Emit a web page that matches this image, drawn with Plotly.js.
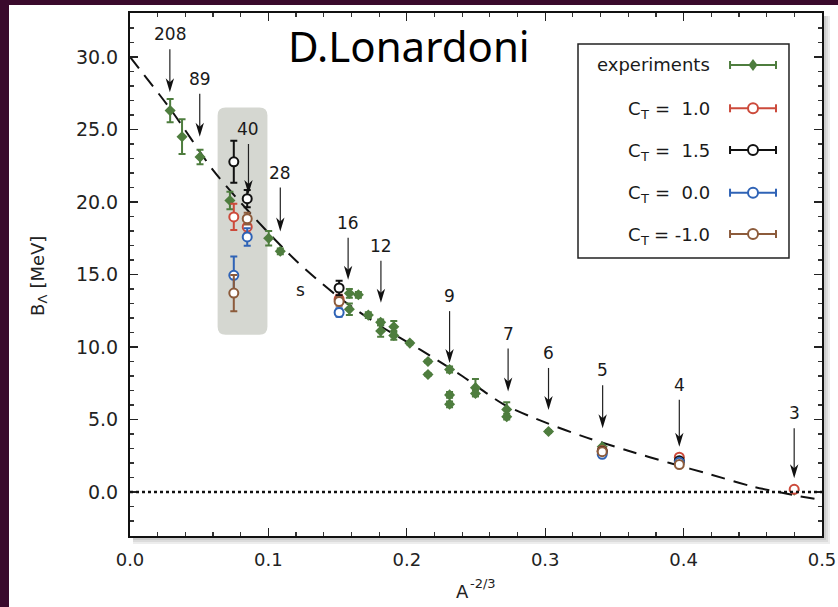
<!DOCTYPE html>
<html>
<head>
<meta charset="utf-8">
<script src="https://cdn.plot.ly/plotly-3.0.1.min.js"></script>
<style>
  html, body { margin: 0; padding: 0; background: #3a0a2c; width: 838px; height: 607px; overflow: hidden; }
  #chart { position: absolute; left: 9px; top: 5px; width: 829px; height: 602px; }
</style>
</head>
<body>
<div id="chart"></div>
<script>
// ---- data ----
const expX   = [0.029, 0.0376, 0.0506, 0.0722, 0.1002, 0.1086, 0.1585, 0.1585, 0.165, 0.1722, 0.1811, 0.1811, 0.1906, 0.1906, 0.2022, 0.2153, 0.2153, 0.2309, 0.2309, 0.2309, 0.2496, 0.2496, 0.2722, 0.2722, 0.3024, 0.3412, 0.3969, 0.3969, 0.4799];
const expY   = [26.3, 24.5, 23.1, 20.1, 17.5, 16.6, 13.7, 12.6, 13.6, 12.2, 11.7, 11.1, 11.4, 10.8, 10.27, 9.0, 8.1, 8.45, 6.7, 6.05, 7.2, 6.8, 5.7, 5.2, 4.18, 3.12, 2.39, 2.04, 0.13];
const expErr = [0.8, 1.2, 0.5, 0.6, 0.5, 0.2, 0.3, 0.4, 0.2, 0.2, 0.2, 0.4, 0.4, 0.3, 0.1, 0.1, 0.1, 0.2, 0.2, 0.2, 0.6, 0.2, 0.5, 0.2, 0.1, 0.05, 0.05, 0.05, 0.05];

const calcX = [0.075, 0.0847, 0.1511, 0.3412, 0.3969, 0.4799];
const ct10Y   = [18.97, 18.28, 13.3, 2.85, 2.4, 0.19];
const ct10Err = [0.9, 0.4, 0.3, 0.1, 0.1, 0.05];
const ct15Y   = [22.77, 20.23, 14.07, 2.8, 2.15, null];
const ct15Err = [1.45, 0.6, 0.5, 0.1, 0.1, 0];
const ct00Y   = [14.94, 17.59, 12.38, 2.6, 2.05, null];
const ct00Err = [1.3, 0.6, 0.3, 0.1, 0.1, 0];
const ctm1Y   = [13.72, 18.85, 13.14, 2.78, 1.9, null];
const ctm1Err = [1.25, 0.4, 0.3, 0.1, 0.1, 0];

const curveX = [0, 0.03, 0.06, 0.09, 0.12, 0.15, 0.18, 0.21, 0.24, 0.27, 0.30, 0.33, 0.36, 0.39, 0.42, 0.45, 0.48, 0.50];
const curveY = [30.0, 26.3, 22.2, 18.9, 15.95, 13.5, 11.5, 9.8, 8.0, 6.05, 4.8, 3.75, 2.85, 2.0, 1.2, 0.38, -0.22, -0.55];

const arrowLabels = ['208', '89', '40', '28', '16', '12', '9', '7', '6', '5', '4', '3'];
const arrowX      = [0.0288, 0.0504, 0.0856, 0.1086, 0.1576, 0.1813, 0.2309, 0.2732, 0.3024, 0.3415, 0.3969, 0.4799];
const arrowTipY   = [27.56, 24.5, 20.55, 17.96, 14.64, 13.05, 8.89, 6.93, 5.66, 4.4, 3.13, 0.95];
const arrowLen    = [58, 58, 65, 59, 57, 57, 67, 58, 57, 58, 62, 65];   // px from tip to label centre

// legend: main label / subscript / value text
const legendMain  = ['experiments', 'C', 'C', 'C', 'C'];
const legendSub   = ['', 'T', 'T', 'T', 'T'];
const legendValue = ['', '=\u00a0\u00a01.0', '=\u00a0\u00a01.5', '=\u00a0\u00a00.0', '= -1.0'];
const seriesColors = ['#4e7d3e', '#cc4a3b', '#111111', '#2f63b6', '#8c5b3b'];

// highlighted box (data coords)
const boxX = [0.0633, 0.0993];
const boxY = [10.84, 26.52];

const yRange = [-3.03, 33.03];
const plotH = 523, plotW = 692;
const pxPerUnit = plotH / (yRange[1] - yRange[0]);

// ---- traces ----
const traces = [];
traces.push({
  x: curveX, y: curveY, type: 'scatter', mode: 'lines',
  line: {color: '#111', width: 2, dash: '14px,9px', shape: 'spline', smoothing: 0.8},
  hoverinfo: 'skip', showlegend: false
});
traces.push({
  x: expX, y: expY, type: 'scatter', mode: 'markers', name: 'experiments',
  marker: {symbol: 'diamond', size: 8.5, color: seriesColors[0], line: {width: 0}},
  error_y: {type: 'data', array: expErr, visible: true, color: seriesColors[0], thickness: 2, width: 3.5},
  showlegend: false
});
const calcSets = [[ct10Y, ct10Err], [ct15Y, ct15Err], [ct00Y, ct00Err], [ctm1Y, ctm1Err]];
calcSets.forEach((s, i) => {
  traces.push({
    x: calcX, y: s[0], type: 'scatter', mode: 'markers', name: 'CT ' + legendValue[i + 1],
    marker: {symbol: 'circle', size: 9, color: '#ffffff', line: {color: seriesColors[i + 1], width: 2}},
    error_y: {type: 'data', array: s[1], visible: true, color: seriesColors[i + 1], thickness: 2, width: 3.5},
    showlegend: false
  });
});

// ---- shapes ----
const shapes = [];
const pxX = 1 / plotW, pxY = 1 / plotH;
// soft shadow of the plot frame
[8, 6, 4, 2].forEach(o => {
  shapes.push({type: 'rect', xref: 'paper', yref: 'paper', layer: 'below',
    x0: 3 * pxX, x1: 1 + o * pxX, y0: -o * pxY, y1: 1 - 3 * pxY,
    fillcolor: 'rgba(0,0,0,0.07)', line: {width: 0}});
});
shapes.push({type: 'rect', xref: 'paper', yref: 'paper', layer: 'below',
  x0: 0, x1: 1, y0: 0, y1: 1, fillcolor: '#ffffff', line: {width: 0}});
// rounded gray box
(function () {
  const rx = 0.0058, ry = 0.55;
  const x0 = boxX[0], x1 = boxX[1], y0 = boxY[0], y1 = boxY[1];
  const p = `M${x0 + rx},${y0} L${x1 - rx},${y0} Q${x1},${y0} ${x1},${y0 + ry} L${x1},${y1 - ry} Q${x1},${y1} ${x1 - rx},${y1} L${x0 + rx},${y1} Q${x0},${y1} ${x0},${y1 - ry} L${x0},${y0 + ry} Q${x0},${y0} ${x0 + rx},${y0} Z`;
  shapes.push({type: 'path', xref: 'x', yref: 'y', layer: 'below', path: p,
    fillcolor: '#d5d7d1', line: {width: 0}});
})();
// zero line
shapes.push({type: 'line', xref: 'paper', yref: 'y', x0: 0, x1: 1, y0: 0, y1: 0,
  line: {color: '#111', width: 2.5, dash: 'dot'}, layer: 'above'});
// legend box
shapes.push({type: 'rect', xref: 'paper', yref: 'paper', x0: 0.6474, x1: 0.9523, y0: 0.5315, y1: 0.9407,
  fillcolor: '#ffffff', line: {color: '#222', width: 1.5}, layer: 'above'});

const txtFont = (s) => ({family: 'DejaVu Sans', size: s, color: '#1a1a1a'});
const rowY = [0.9006, 0.8178, 0.7380, 0.6564, 0.5774];
const symL = 0.8671, symR = 0.9335, symC = 0.9003, textR = 0.8406;
const annotations = [];
legendMain.forEach((nm, i) => {
  const c = seriesColors[i], y = rowY[i];
  shapes.push({type: 'line', xref: 'paper', yref: 'paper', x0: symL, x1: symR, y0: y, y1: y,
    line: {color: c, width: 2}, layer: 'above'});
  [symL, symR].forEach(xe => {
    shapes.push({type: 'line', xref: 'paper', yref: 'paper', ysizemode: 'pixel', yanchor: y,
      x0: xe, x1: xe, y0: -4, y1: 4, line: {color: c, width: 2}, layer: 'above'});
  });
  if (i === 0) {
    shapes.push({type: 'path', xref: 'paper', yref: 'paper', xsizemode: 'pixel', ysizemode: 'pixel',
      xanchor: symC, yanchor: y, path: 'M0,6 L4.5,0 L0,-6 L-4.5,0 Z',
      fillcolor: c, line: {width: 0}, layer: 'above'});
    annotations.push({xref: 'paper', yref: 'paper', x: textR, y: y, xanchor: 'right', yanchor: 'middle',
      text: nm, showarrow: false, font: txtFont(18)});
  } else {
    shapes.push({type: 'circle', xref: 'paper', yref: 'paper', xsizemode: 'pixel', ysizemode: 'pixel',
      xanchor: symC, yanchor: y, x0: -5, x1: 5, y0: -5, y1: 5,
      fillcolor: '#ffffff', line: {color: c, width: 2}, layer: 'above'});
    annotations.push({xref: 'paper', yref: 'paper', x: textR, y: y, xanchor: 'right', yanchor: 'middle',
      text: legendValue[i], showarrow: false, font: txtFont(18)});
    annotations.push({xref: 'paper', yref: 'paper', x: textR, y: y, xanchor: 'right', yanchor: 'middle',
      xshift: -61, yshift: -6, text: legendSub[i], showarrow: false, font: txtFont(13)});
    annotations.push({xref: 'paper', yref: 'paper', x: textR, y: y, xanchor: 'right', yanchor: 'middle',
      xshift: -69, text: nm, showarrow: false, font: txtFont(18)});
  }
});

// arrows (shapes) with nucleus labels (text annotations)
arrowLabels.forEach((t, i) => {
  const len = arrowLen[i];
  shapes.push({type: 'line', xref: 'x', yref: 'y', ysizemode: 'pixel', yanchor: arrowTipY[i],
    x0: arrowX[i], x1: arrowX[i], y0: 9, y1: len - 15,
    line: {color: '#222', width: 1.2}, layer: 'above'});
  shapes.push({type: 'path', xref: 'x', yref: 'y', xsizemode: 'pixel', ysizemode: 'pixel',
    xanchor: arrowX[i], yanchor: arrowTipY[i], path: 'M0,0 L-4.2,14 L0,10 L4.2,14 Z',
    fillcolor: '#111', line: {width: 0}, layer: 'above'});
  annotations.push({x: arrowX[i], y: arrowTipY[i] + len / pxPerUnit, xref: 'x', yref: 'y', text: t,
    showarrow: false, xanchor: 'center', yanchor: 'middle', font: txtFont(17)});
});
annotations.push({x: 0.123, y: 13.95, xref: 'x', yref: 'y', text: 's', showarrow: false, font: txtFont(17)});
// big title
annotations.push({xref: 'paper', yref: 'paper', x: 0.4032, y: 0.9388, xanchor: 'center', yanchor: 'middle',
  text: 'D.Lonardoni', showarrow: false, font: {family: 'Noto Sans', size: 42, color: '#000'}});

// axis titles built from plain text pieces (main + sub/superscript)
const axisFont = (s) => ({family: 'DejaVu Sans', size: s, color: '#222'});
// y title: B_Λ [MeV], rotated
annotations.push({xref: 'paper', yref: 'paper', x: -0.1343, y: 0.4321, textangle: -90,
  text: 'B', showarrow: false, font: axisFont(18), xanchor: 'center', yanchor: 'middle'});
annotations.push({xref: 'paper', yref: 'paper', x: -0.1271, y: 0.4522, textangle: -90,
  text: 'Λ', showarrow: false, font: axisFont(13), xanchor: 'center', yanchor: 'middle'});
annotations.push({xref: 'paper', yref: 'paper', x: -0.1343, y: 0.5229, textangle: -90,
  text: '[MeV]', showarrow: false, font: axisFont(18), xanchor: 'center', yanchor: 'middle'});
// x title: A^-2/3
annotations.push({xref: 'paper', yref: 'paper', x: 0.4798, y: -0.107,
  text: 'A', showarrow: false, font: axisFont(18), xanchor: 'center', yanchor: 'middle'});
annotations.push({xref: 'paper', yref: 'paper', x: 0.5105, y: -0.0915,
  text: '-2/3', showarrow: false, font: axisFont(13), xanchor: 'center', yanchor: 'middle'});

const layout = {
  width: 829, height: 602,
  margin: {l: 121, r: 16, t: 8, b: 71, pad: 0},
  paper_bgcolor: '#ffffff', plot_bgcolor: 'rgba(0,0,0,0)',
  showlegend: false,
  xaxis: {
    range: [0, 0.5], dtick: 0.1, tick0: 0, tickformat: '.1f',
    ticks: 'inside', ticklen: 8, tickwidth: 1.3, tickcolor: '#222',
    minor: {dtick: 0.02, ticks: 'inside', ticklen: 4, tickwidth: 1.2, tickcolor: '#333'},
    showline: true, linecolor: '#111', linewidth: 2, mirror: 'ticks',
    showgrid: false, zeroline: false,
    tickfont: {family: 'DejaVu Sans', size: 18, color: '#222'},
    ticklabelstandoff: 6
  },
  yaxis: {
    range: yRange, dtick: 5, tick0: 0, tickformat: '.1f',
    ticks: 'inside', ticklen: 8, tickwidth: 1.3, tickcolor: '#222',
    minor: {dtick: 1, ticks: 'inside', ticklen: 4, tickwidth: 1.2, tickcolor: '#333'},
    showline: true, linecolor: '#111', linewidth: 2, mirror: 'ticks',
    showgrid: false, zeroline: false,
    tickfont: {family: 'DejaVu Sans', size: 19, color: '#222'},
    ticklabelstandoff: 6
  },
  shapes: shapes,
  annotations: annotations
};

Plotly.newPlot('chart', traces, layout, {displayModeBar: false, staticPlot: true});
</script>
</body>
</html>
